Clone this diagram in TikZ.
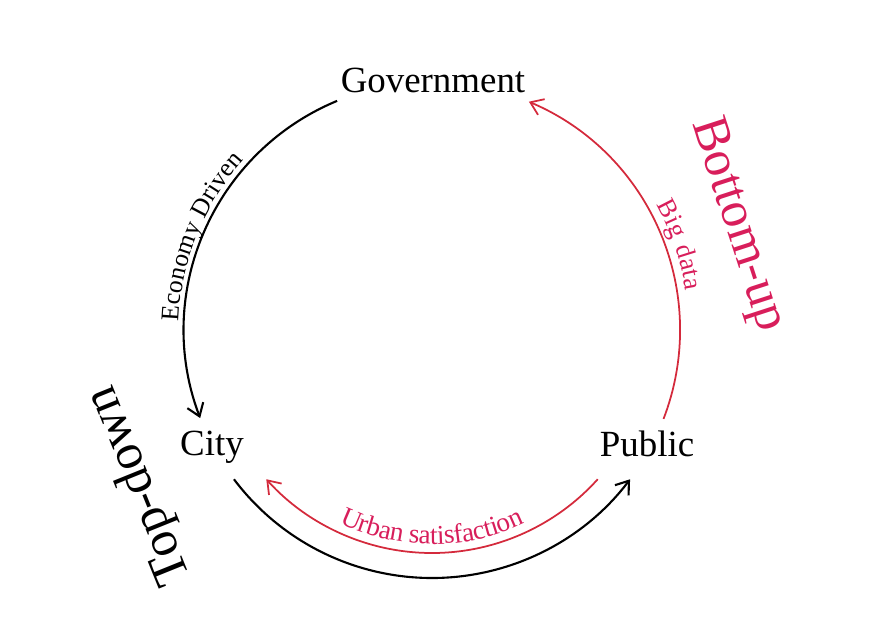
\documentclass[tikz,border=0pt]{standalone}
\usepackage{fontspec}
\setmainfont{Liberation Serif}
\usetikzlibrary{arrows.meta,decorations.text}
\definecolor{crimson}{HTML}{D42A3C}
\definecolor{rose}{HTML}{D81E5B}

\begin{document}
\begin{tikzpicture}[x=0.02cm,y=0.02cm,
              actor/.style={font=\fontsize{21}{25}\selectfont,inner sep=2pt},
              flow/.style={line width=1.2pt,-{Straight Barb[length=2.4mm,width=3.4mm]}},
              back/.style={flow,crimson,line width=1pt},
              tag/.style={font=\fontsize{29}{34}\selectfont,inner sep=0}]
              \useasboundingbox (0,0) rectangle (895,637);
              \coordinate (o) at (432,307);
              \node[actor] (gov) at (433,557) {Government};
              \node[actor] (city) at (212,190) {City};
              \node[actor] (pub) at (647,193) {Public};
              % top-down loop
              \draw[flow] ([shift={(112.5:248)}]o) arc[start angle=112.5,end angle=200.8,radius=248];
              \draw[flow] ([shift={(217:248)}]o) arc[start angle=217,end angle=323,radius=248];
              % bottom-up loop
              \draw[back] ([shift={(-42:223)}]o) arc[start angle=-42,end angle=-138,radius=223];
              \draw[back] ([shift={(-21:248)}]o) arc[start angle=-21,end angle=67,radius=248];
              % arc labels
              \path[decorate,decoration={text along path,text align=center,raise=3pt,
                text={|\fontsize{14.5}{17}\selectfont|Economy Driven}}]
                ([shift={(200:248)}]o) arc[start angle=200,end angle=116,radius=248];
              \path[decorate,decoration={text along path,text align=center,raise=5pt,
                text={|\fontsize{15}{18}\selectfont\color{rose}|Big data}}]
                ([shift={(60:248)}]o) arc[start angle=60,end angle=-22,radius=248];
              \path[decorate,decoration={text along path,text align=center,raise=5pt,
                text={|\fontsize{15.5}{18}\selectfont\color{rose}|Urban satisfaction}}]
                ([shift={(222:223)}]o) arc[start angle=222,end angle=318,radius=223];
              \node[tag,rotate=112] (td) at (140,152) {Top-down};
              \node[tag,rotate=-72,rose] (bu) at (737,412) {Bottom-up};
            \end{tikzpicture}
\end{document}
